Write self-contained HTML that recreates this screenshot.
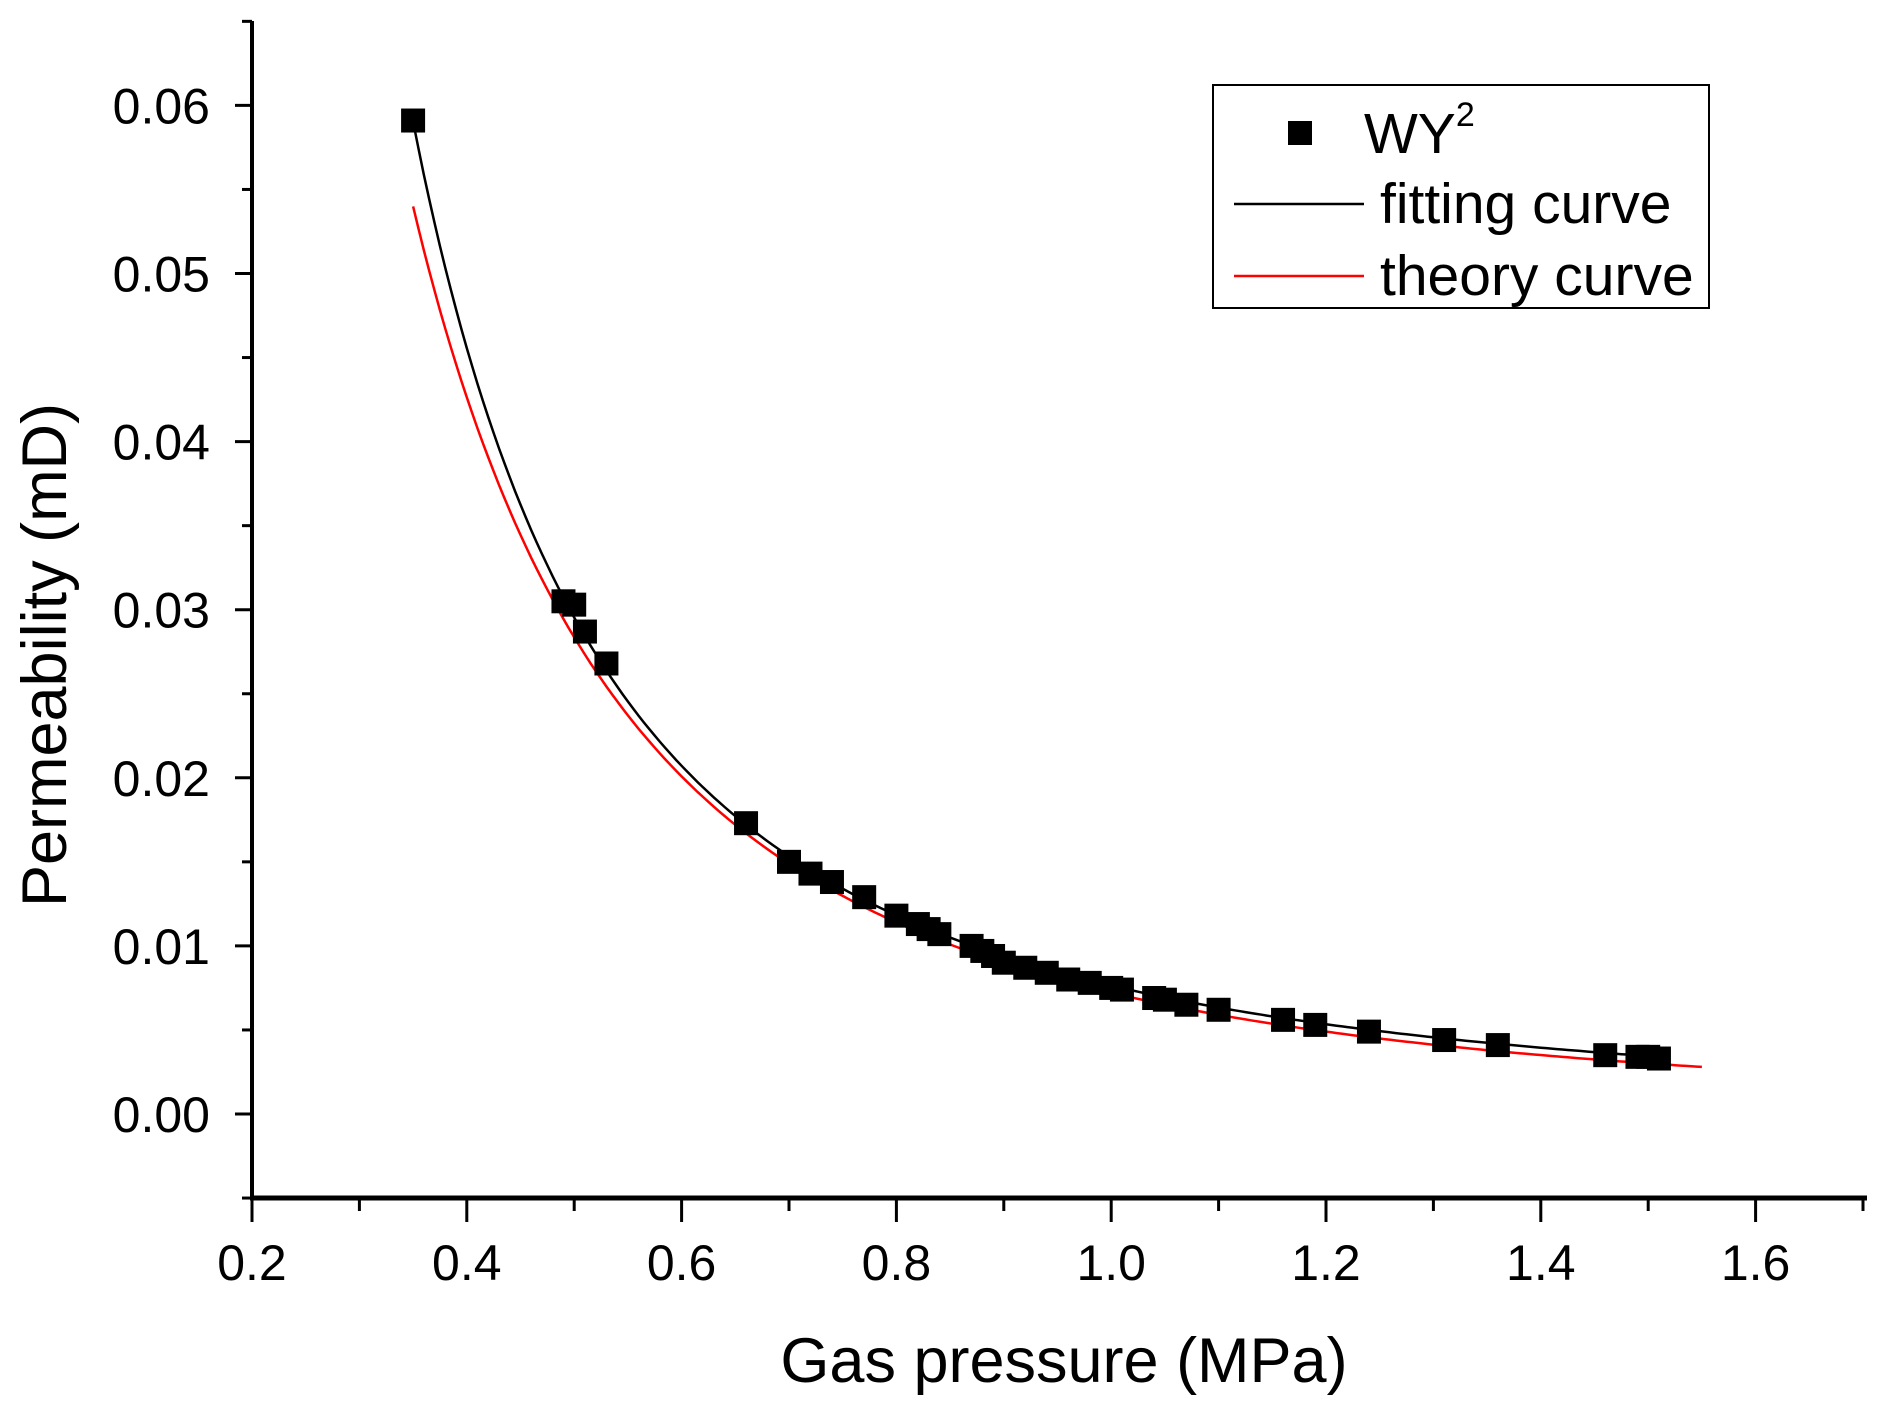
<!DOCTYPE html>
<html><head><meta charset="utf-8"><style>
html,body{margin:0;padding:0;background:#fff;}
svg{display:block;font-family:"Liberation Sans",Arial,sans-serif;}
</style></head><body>
<svg id="c" width="1897" height="1424" viewBox="0 0 1897 1424" xmlns="http://www.w3.org/2000/svg">
<g id="g"></g>
<rect x="1213" y="85" width="496" height="223" fill="none" stroke="#000" stroke-width="2"/>
<rect x="1288" y="121" width="24" height="24" fill="#000"/>
<text x="1364" y="153" font-size="57">WY<tspan font-size="34" dy="-27">2</tspan></text>
<line x1="1234" y1="204" x2="1364" y2="204" stroke="#000" stroke-width="2.5"/>
<text x="1380" y="223" font-size="57">fitting curve</text>
<line x1="1234" y1="276" x2="1364" y2="276" stroke="#f00" stroke-width="2.5"/>
<text x="1380" y="295" font-size="57">theory curve</text>
<text x="1064" y="1382" font-size="63" text-anchor="middle">Gas pressure (MPa)</text>
<text transform="translate(66,655) rotate(-90)" font-size="63" text-anchor="middle">Permeability (mD)</text>
</svg>
<script>
var X=function(p){return 252+(p-0.2)*1074;};
var Y=function(k){return 1114-k*16810;};
var s='';
s+='<line x1="252" y1="21" x2="252" y2="1200" stroke="#000" stroke-width="4"/>';
s+='<line x1="250" y1="1198" x2="1867" y2="1198" stroke="#000" stroke-width="5"/>';
for(var i=0;i<=15;i++){var p=0.2+i*0.1,x=X(p),maj=(i%2==0);
 s+='<line x1="'+x+'" y1="1198" x2="'+x+'" y2="'+(1198+(maj?24:13))+'" stroke="#000" stroke-width="3"/>';
 if(maj&&p<1.65)s+='<text x="'+x+'" y="1280" font-size="50" text-anchor="middle">'+p.toFixed(1)+'</text>';}
for(var j=-1;j<=13;j++){var k=j*0.005,y=Y(k),maj=(j%2==0);
 s+='<line x1="'+(252-(maj?17:10))+'" y1="'+y+'" x2="252" y2="'+y+'" stroke="#000" stroke-width="3"/>';
 if(maj&&j>=0)s+='<text x="210" y="'+(y+18)+'" font-size="50" text-anchor="end">'+k.toFixed(2)+'</text>';}
function curve(A,B,C,p0,p1,col){var d='';for(var p=p0;p<=p1+1e-9;p+=0.005){var u=Math.log(p);var k=Math.exp(A+B*u+C*u*u);d+=(d?'L':'M')+X(p).toFixed(1)+','+Y(k).toFixed(1);}
 return '<path d="'+d+'" fill="none" stroke="'+col+'" stroke-width="2.5"/>';}
s+=curve(-4.932,-2.088,-0.1624,0.35,1.55,'#f00');
s+=curve(-4.875,-1.959,-0.0103,0.35,1.51,'#000');
var pts=[[0.35,0.0591],[0.49,0.0305],[0.50,0.0303],[0.51,0.0287],[0.53,0.0268],[0.66,0.0173],[0.70,0.0150],[0.72,0.0143],[0.74,0.0138],[0.77,0.0129],[0.80,0.0118],[0.82,0.0113],[0.83,0.0110],[0.84,0.0107],[0.87,0.0100],[0.88,0.0097],[0.89,0.0094],[0.90,0.0090],[0.92,0.0087],[0.94,0.0084],[0.96,0.0080],[0.98,0.0078],[1.00,0.0075],[1.01,0.0074],[1.04,0.0069],[1.05,0.0068],[1.07,0.0065],[1.10,0.0062],[1.16,0.0056],[1.19,0.0053],[1.24,0.0049],[1.31,0.0044],[1.36,0.0041],[1.46,0.0035],[1.49,0.0034],[1.50,0.0034],[1.51,0.0033]];
pts.forEach(function(q){s+='<rect x="'+(X(q[0])-12)+'" y="'+(Y(q[1])-12)+'" width="24" height="24" fill="#000"/>';});
document.getElementById('g').innerHTML=s;
</script>
</body></html>
